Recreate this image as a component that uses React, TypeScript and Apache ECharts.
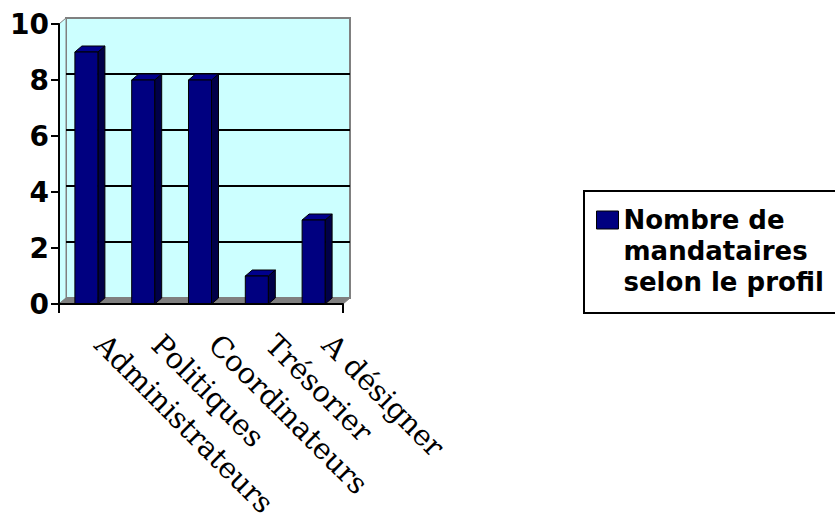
import { useEffect, useRef } from "react";
import * as echarts from "echarts";

// Mandataires per profile
const categories = ["Administrateurs", "Politiques", "Coordinateurs", "Trésorier", "A désigner"];
const mandataires = [9, 8, 8, 1, 3];
const seriesName = "Nombre de\nmandataires\nselon le profil";
const yMin = 0;
const yMax = 10;
const yStep = 2;
const wallGridValues = [2, 4, 6, 8];

// 3D depth offset of the back wall and of the column sides
const DX = 7;
const DY = 6;

const NAVY = "#000080";
const NAVY_TOP = "#00008C";
const NAVY_SIDE = "#000048";
const WALL = "#CCFFFF";
const GREY = "#808080";

export default function App() {
  const ref = useRef<HTMLDivElement>(null);

  useEffect(() => {
    document.body.style.margin = "0";
    if (!ref.current) return;
    const chart = echarts.init(ref.current, undefined, { renderer: "svg" });

    const renderWalls = (params: any, api: any) => {
      const cs = params.coordSys;
      const x0 = cs.x;
      const x1 = cs.x + cs.width;
      const yTop = cs.y;
      const yBot = cs.y + cs.height;
      const children: any[] = [
        {
          type: "rect",
          shape: { x: x0 + DX, y: yTop - DY, width: cs.width, height: cs.height },
          style: { fill: WALL, stroke: GREY, lineWidth: 2 },
        },
        {
          type: "polygon",
          shape: { points: [[x0, yTop], [x0 + DX, yTop - DY], [x0 + DX, yBot - DY], [x0, yBot]] },
          style: { fill: WALL, stroke: GREY, lineWidth: 1 },
        },
      ];
      wallGridValues.forEach((v) => {
        const y = api.coord([0, v])[1] - DY;
        children.push({
          type: "line",
          shape: { x1: x0 + DX, y1: y, x2: x1 + DX, y2: y },
          style: { stroke: "#000", lineWidth: 2 },
        });
      });
      children.push({
        type: "polygon",
        shape: { points: [[x0, yBot], [x0 + DX, yBot - DY], [x1 + DX, yBot - DY], [x1, yBot]] },
        style: { fill: GREY, stroke: GREY, lineWidth: 1 },
      });
      // end ticks of the category axis
      [x0, x1].forEach((x) => {
        children.push({
          type: "line",
          shape: { x1: x, y1: yBot, x2: x, y2: yBot + 9 },
          style: { stroke: "#000", lineWidth: 2 },
        });
      });
      return { type: "group", children };
    };

    const renderColumn = (params: any, api: any) => {
      const idx = api.value(0);
      const val = api.value(1);
      const [cx, yv] = api.coord([idx, val]);
      const y0 = api.coord([idx, 0])[1];
      const bw = api.size([1, 0])[0] * 0.405;
      const l = cx - bw / 2 - 1;
      const r = l + bw;
      return {
        type: "group",
        children: [
          {
            type: "polygon",
            shape: { points: [[r, yv], [r + DX, yv - DY], [r + DX, y0 - DY], [r, y0]] },
            style: { fill: NAVY_SIDE, stroke: "#000", lineWidth: 1 },
          },
          {
            type: "polygon",
            shape: { points: [[l, yv], [l + DX, yv - DY], [r + DX, yv - DY], [r, yv]] },
            style: { fill: NAVY_TOP, stroke: "#000", lineWidth: 1 },
          },
          {
            type: "rect",
            shape: { x: l, y: yv, width: bw, height: y0 - yv },
            style: { fill: NAVY, stroke: "#000", lineWidth: 1 },
          },
        ],
      };
    };

    chart.setOption({
      animation: false,
      backgroundColor: "#fff",
      grid: { left: 59, top: 24, width: 284, height: 280, containLabel: false, outerBoundsMode: "none" },
      xAxis: {
        type: "category",
        data: categories,
        boundaryGap: true,
        z: 5,
        axisLine: { show: true, lineStyle: { color: "#000", width: 2 } },
        axisTick: { show: false },
        splitLine: { show: false },
        axisLabel: {
          interval: 0,
          rotate: -45,
          margin: 23,
          padding: [0, 0, 13, 18],
          color: "#000",
          fontFamily: "DejaVu Serif",
          fontSize: 29,
          hideOverlap: false,
        },
      },
      yAxis: {
        type: "value",
        min: yMin,
        max: yMax,
        interval: yStep,
        z: 5,
        axisLine: { show: true, lineStyle: { color: "#000", width: 2 } },
        axisTick: { show: true, length: 8, lineStyle: { color: "#000", width: 2 } },
        splitLine: { show: false },
        axisLabel: {
          margin: 10,
          color: "#000",
          fontFamily: "DejaVu Sans",
          fontWeight: "bold",
          fontSize: 28,
        },
      },
      legend: {
        left: 596,
        top: 142.5,
        padding: 0,
        itemWidth: 22,
        itemHeight: 18,
        selectedMode: false,
        // two leading blank lines keep the first text line level with the swatch
        formatter: (name: string) => "\n\n" + name,
        data: [
          {
            name: seriesName,
            icon: "rect",
            itemStyle: { color: NAVY, borderColor: "#000", borderWidth: 1 },
          },
        ],
        textStyle: {
          color: "#000",
          fontFamily: "DejaVu Sans",
          fontWeight: "bold",
          fontSize: 26,
          lineHeight: 31,
        },
      },
      graphic: [
        {
          type: "rect",
          z: 0,
          shape: { x: 584, y: 191, width: 280, height: 122 },
          style: { fill: "#fff", stroke: "#000", lineWidth: 2 },
        },
      ],
      series: [
        {
          type: "custom",
          name: "walls",
          z: 1,
          clip: false,
          silent: true,
          renderItem: renderWalls,
          data: [[0, 0]],
        },
        {
          type: "custom",
          name: seriesName,
          z: 2,
          clip: false,
          itemStyle: { color: NAVY },
          renderItem: renderColumn,
          data: mandataires.map((v, i) => [i, v]),
        },
      ],
    });

    return () => chart.dispose();
  }, []);

  return <div ref={ref} style={{ width: 835, height: 521 }} />;
}
